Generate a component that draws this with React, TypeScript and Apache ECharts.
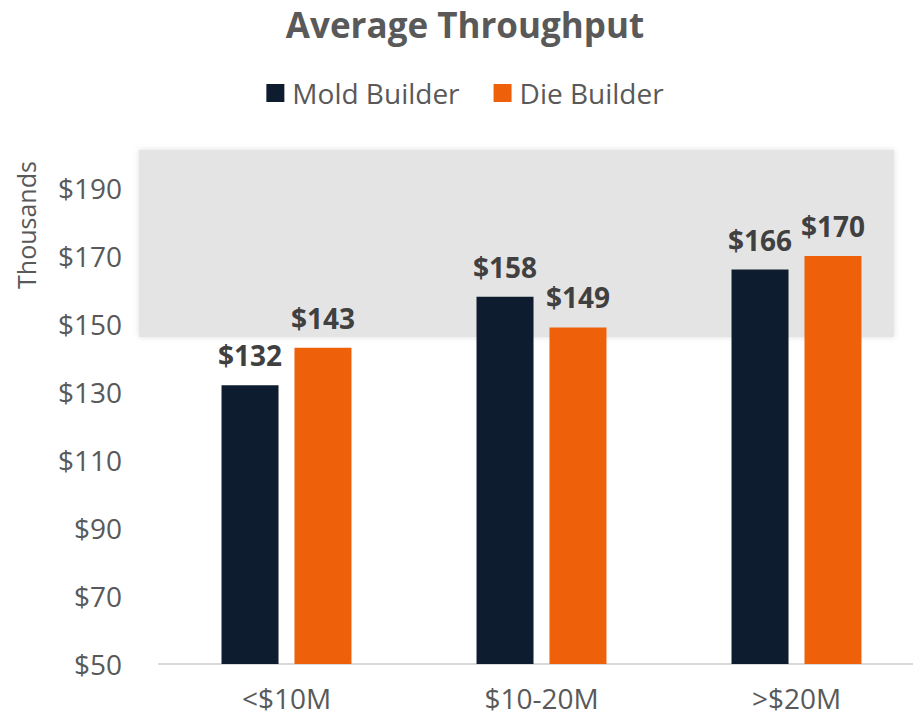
import React, { useEffect, useRef } from "react";
import * as echarts from "echarts";

const categories = ["<$10M", "$10-20M", ">$20M"];
const moldBuilder = [132, 158, 166];
const dieBuilder = [143, 149, 170];
const seriesNames = ["Mold Builder", "Die Builder"];
const yTicks = { min: 50, max: 190, interval: 20 };

const FONT = "'Open Sans', 'Noto Sans', sans-serif";

export default function App() {
  const ref = useRef<HTMLDivElement>(null);
  useEffect(() => {
    if (!ref.current) return;
    const chart = echarts.init(ref.current, null, { renderer: "svg" });
    const label = {
      show: true,
      position: "top" as const,
      distance: 16,
      formatter: (p: any) => "$" + p.value,
      color: "#404040",
      fontWeight: "bold" as const,
      fontSize: 28,
      fontFamily: FONT,
    };
    chart.setOption({
      animation: false,
      backgroundColor: "#ffffff",
      title: {
        text: "Average Throughput",
        left: "center",
        top: 2,
        textStyle: { color: "#595959", fontSize: 35, fontWeight: "bold", fontFamily: FONT },
      },
      legend: {
        data: seriesNames,
        top: 74,
        left: "center",
        itemWidth: 18,
        itemHeight: 18,
        itemGap: 34,
        icon: "rect",
        textStyle: { color: "#595959", fontSize: 28, fontFamily: FONT, padding: [0, 0, 0, 3] },
      },
      graphic: [
        {
          type: "rect",
          z: 0,
          shape: { x: 139, y: 150, width: 755, height: 187 },
          style: { fill: "#e4e4e4", shadowBlur: 6, shadowColor: "rgba(0,0,0,0.12)" },
        },
        {
          type: "text",
          x: 26,
          y: 225,
          rotation: Math.PI / 2,
          style: {
            text: "Thousands",
            fill: "#595959",
            fontSize: 25,
            fontFamily: FONT,
            align: "center",
            verticalAlign: "middle",
          },
        },
      ],
      grid: { left: 159, right: 6, top: 188, bottom: 57, containLabel: false },
      xAxis: {
        type: "category",
        data: categories,
        axisLine: { lineStyle: { color: "#d9d9d9", width: 2 } },
        axisTick: { show: false },
        axisLabel: { color: "#595959", fontSize: 28, fontFamily: FONT, margin: 20 },
      },
      yAxis: {
        type: "value",
        min: yTicks.min,
        max: yTicks.max,
        interval: yTicks.interval,
        axisLine: { show: false },
        axisTick: { show: false },
        splitLine: { show: false },
        axisLabel: {
          color: "#595959",
          fontSize: 28,
          fontFamily: FONT,
          margin: 37,
          formatter: (v: number) => "$" + v,
        },
      },
      series: [
        {
          name: seriesNames[0],
          type: "bar",
          data: moldBuilder,
          barWidth: 57,
          barGap: "28%",
          z: 3,
          itemStyle: { color: "#0e1c30" },
          label,
        },
        {
          name: seriesNames[1],
          type: "bar",
          data: dieBuilder,
          barWidth: 57,
          z: 3,
          itemStyle: { color: "#ee600a" },
          label,
        },
      ],
    });
    return () => chart.dispose();
  }, []);
  return (
    <div style={{ position: "fixed", left: 0, top: 0, width: 913, height: 721, overflow: "hidden" }}>
      <div ref={ref} style={{ width: 930, height: 721 }} />
    </div>
  );
}
